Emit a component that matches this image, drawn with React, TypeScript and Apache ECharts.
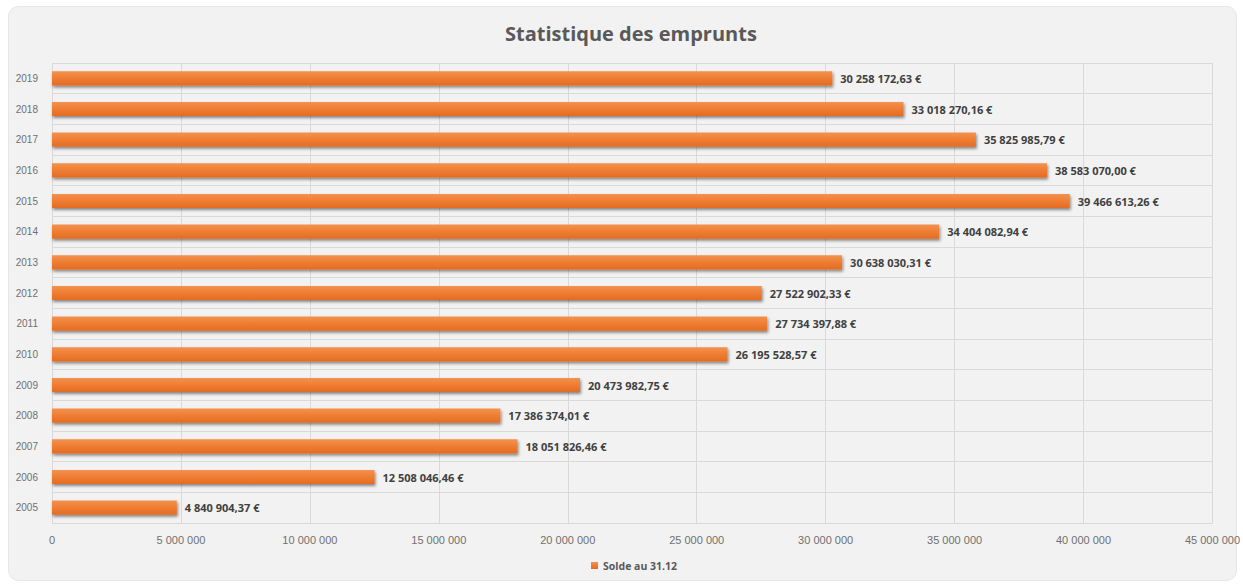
import React, { useEffect, useRef } from "react";
import * as echarts from "echarts";

const years = ["2005", "2006", "2007", "2008", "2009", "2010", "2011", "2012", "2013", "2014", "2015", "2016", "2017", "2018", "2019"];
const soldes = [
  4840904.37, 12508046.46, 18051826.46, 17386374.01, 20473982.75, 26195528.57, 27734397.88,
  27522902.33, 30638030.31, 34404082.94, 39466613.26, 38583070.0, 35825985.79, 33018270.16, 30258172.63,
];
const seriesName = "Solde au 31.12";
const chartTitle = "Statistique des emprunts";

function groupThousands(s: string): string {
  return s.replace(/\B(?=(\d{3})+(?!\d))/g, " ");
}
function fmtEuro(v: number): string {
  const [i, d] = v.toFixed(2).split(".");
  return groupThousands(i) + "," + d + " €";
}
function fmtAxis(v: number): string {
  return groupThousands(String(Math.round(v)));
}

export default function App() {
  const ref = useRef<HTMLDivElement>(null);
  useEffect(() => {
    if (!ref.current) return;
    const chart = echarts.init(ref.current, undefined, { renderer: "svg" });
    chart.setOption({
      animation: false,
      backgroundColor: "#ffffff",
      graphic: [
        {
          type: "rect",
          left: 8,
          top: 6,
          z: -10,
          silent: true,
          shape: { width: 1228, height: 574, r: 10 },
          style: { fill: "#f2f2f2", stroke: "#e6e6e6", lineWidth: 1 },
        },
      ],
      title: {
        text: chartTitle,
        left: 500,
        top: 18,
        textStyle: { fontFamily: "Open Sans", fontWeight: "bold", fontSize: 20, color: "#595959" },
      },
      legend: {
        bottom: 8,
        left: 586,
        itemWidth: 7,
        itemHeight: 7,
        itemGap: 4,
        icon: "rect",
        textStyle: { fontFamily: "Open Sans", fontWeight: "bold", fontSize: 10.5, color: "#595959" },
        data: [seriesName],
      },
      grid: { left: 52, right: 30, top: 63, bottom: 61, containLabel: false },
      xAxis: {
        type: "value",
        min: 0,
        max: 45000000,
        interval: 5000000,
        axisLine: { show: false },
        axisTick: { show: false },
        splitLine: { show: true, lineStyle: { color: "#d9d9d9", width: 1 } },
        axisLabel: {
          formatter: (v: number) => fmtAxis(v),
          fontFamily: "Liberation Sans Narrow, Liberation Sans",
          fontSize: 11,
          color: "#707070",
          margin: 11,
        },
      },
      yAxis: {
        type: "category",
        data: years,
        axisLine: { show: false },
        axisTick: { show: false },
        splitLine: { show: true, lineStyle: { color: "#d9d9d9", width: 1 } },
        axisLabel: {
          fontFamily: "Liberation Sans Narrow, Liberation Sans",
          fontSize: 10,
          color: "#707070",
          margin: 14,
        },
      },
      series: [
        {
          name: seriesName,
          type: "bar",
          data: soldes,
          barWidth: "46%",
          itemStyle: {
            color: new echarts.graphic.LinearGradient(0, 0, 0, 1, [
              { offset: 0, color: "#f3924f" },
              { offset: 0.5, color: "#ee7d32" },
              { offset: 1, color: "#e46c22" },
            ]),
            shadowColor: "rgba(0,0,0,0.45)",
            shadowBlur: 3,
            shadowOffsetX: 1,
            shadowOffsetY: 2,
          },
          label: {
            show: true,
            position: "right",
            distance: 8,
            formatter: (p: any) => fmtEuro(p.value),
            fontFamily: "Open Sans",
            fontWeight: "bold",
            fontSize: 11,
            color: "#404040",
          },
        },
      ],
    });
    return () => chart.dispose();
  }, []);
  return (
    <div
      ref={ref}
      style={{ position: "fixed", left: 0, top: 0, width: 1243, height: 584 }}
    />
  );
}
